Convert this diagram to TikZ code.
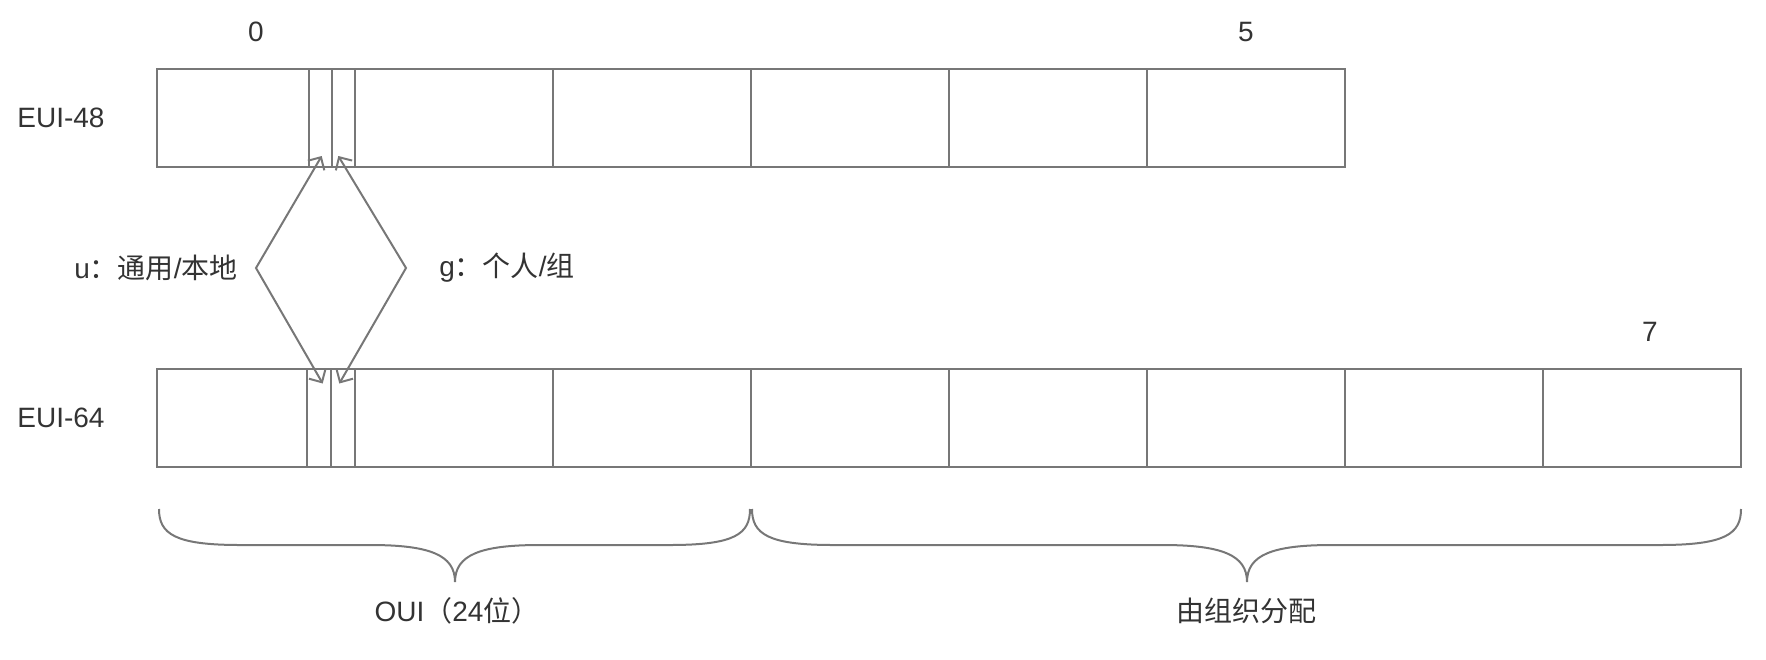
\documentclass[tikz,border=0pt]{standalone}
\usepackage{fontspec}
\setmainfont{Liberation Sans}
\newfontfamily\cjk{Noto Sans CJK SC}
\usetikzlibrary{arrows.meta}
\definecolor{lineg}{RGB}{119,119,119}
\definecolor{txt}{RGB}{51,51,51}
\begin{document}
\begin{tikzpicture}[x=1pt,y=-1pt,
 cell/.style={draw=lineg, line width=2pt, minimum height=98pt, inner sep=0pt, outer sep=0pt, rectangle},
 lbl/.style={text=txt, font=\fontsize{28}{34}\selectfont, inner sep=0pt},
 bitarrow/.style={draw=lineg, line width=2pt, line join=miter,
   {Straight Barb[length=9.6pt,width=19pt]}-{Straight Barb[length=9.6pt,width=19pt]}},
 brace/.style={draw=lineg, line width=2pt}]
\useasboundingbox (0,0) rectangle (1766,659);
% EUI-48 row
\node[cell, minimum width=152pt] (c48a) at (233,118) {};
\node[cell, minimum width=23pt] (u48) at (320.5,118) {};
\node[cell, minimum width=23pt] (g48) at (343.5,118) {};
\node[cell, minimum width=198pt] (c48b) at (454,118) {};
\node[cell, minimum width=198pt] (c48c) at (652,118) {};
\node[cell, minimum width=198pt] (c48d) at (850,118) {};
\node[cell, minimum width=198pt] (c48e) at (1048,118) {};
\node[cell, minimum width=198pt] (c48f) at (1246,118) {};
% EUI-64 row
\node[cell, minimum width=150pt] (c64a) at (232,417.5) {};
\node[cell, minimum width=24pt] (u64) at (319,417.5) {};
\node[cell, minimum width=24pt] (g64) at (343,417.5) {};
\node[cell, minimum width=198pt] (c64b) at (454,417.5) {};
\node[cell, minimum width=198pt] (c64c) at (652,417.5) {};
\node[cell, minimum width=198pt] (c64d) at (850,417.5) {};
\node[cell, minimum width=198pt] (c64e) at (1048,417.5) {};
\node[cell, minimum width=198pt] (c64f) at (1246,417.5) {};
\node[cell, minimum width=198pt] (c64g) at (1444,417.5) {};
\node[cell, minimum width=198pt] (c64h) at (1642,417.5) {};
% labels
\node[lbl] (n0) at (256,32) {0};
\node[lbl] (n5) at (1246,32) {5};
\node[lbl] (n7) at (1650,331.5) {7};
\node[lbl] (e48) at (61,118) {EUI-48};
\node[lbl] (e64) at (61,418) {EUI-64};
\node[lbl] (ul) at (156,268) {u{\cjk ：通用}/{\cjk 本地}};
\node[lbl] (gl) at (507,268) {g{\cjk ：个人}/{\cjk 组}};
\node[lbl] (oui) at (457,610.5) {OUI{\cjk （}24{\cjk 位）}};
\node[lbl] (org) at (1246,610.5) {\cjk 由组织分配};
% arrows
\coordinate (lv) at (256,268);
\coordinate (rv) at (406,268);
\draw[bitarrow] ([xshift=1.2pt,yshift=11pt]u48.south) -- (lv) -- ([xshift=3.7pt,yshift=-15pt]u64.north);
\draw[bitarrow] ([xshift=-5.2pt,yshift=11pt]g48.south) -- (rv) -- ([xshift=-3.7pt,yshift=-15pt]g64.north);
% braces
\draw[brace] (159,509) .. controls (159,534) and (175,545) .. (240,545)
  -- (370,545) .. controls (430,545) and (455,555) .. (455,582)
  .. controls (455,555) and (480,545) .. (540,545)
  -- (670,545) .. controls (735,545) and (750,534) .. (750,509);
\draw[brace] (752,509) .. controls (752,534) and (768,545) .. (833,545)
  -- (1162,545) .. controls (1222,545) and (1247,555) .. (1247,582)
  .. controls (1247,555) and (1272,545) .. (1332,545)
  -- (1660,545) .. controls (1725,545) and (1741,534) .. (1741,509);
\end{tikzpicture}
\end{document}
